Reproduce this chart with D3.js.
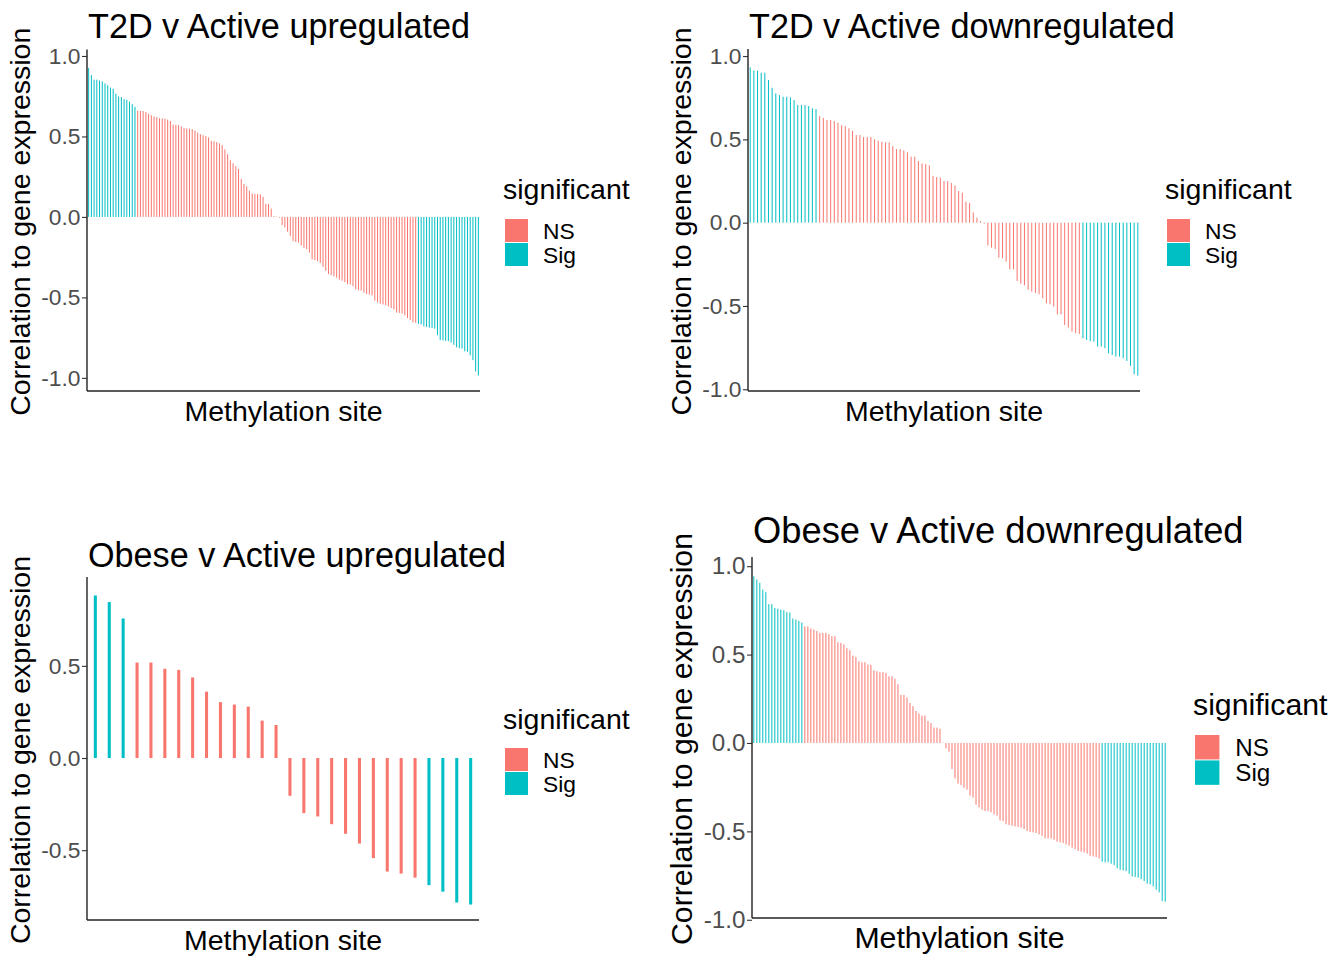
<!DOCTYPE html>
<html>
<head>
<meta charset="utf-8">
<script src="https://cdn.jsdelivr.net/npm/d3@7"></script>
<style>
  body { margin: 0; background: #fff; }
  text { font-family: "Liberation Sans", Arial, sans-serif; }
</style>
</head>
<body>
<script>
// correlation values, one per methylation site, already sorted high -> low
const t2dUpValues = [0.926,0.882,0.853,0.853,0.847,0.842,0.830,0.818,0.804,0.797,0.765,0.748,0.745,0.731,0.728,0.716,0.700,0.684,
  0.660,0.659,0.658,0.652,0.641,0.632,0.624,0.620,0.613,0.612,0.610,0.605,0.596,0.574,0.572,0.570,0.562,0.552,0.550,0.548,
  0.546,0.537,0.524,0.514,0.508,0.502,0.494,0.473,0.470,0.465,0.457,0.446,0.420,0.390,0.352,0.333,0.316,0.298,0.236,0.205,
  0.190,0.162,0.145,0.143,0.142,0.140,0.125,0.082,0.080,0.052,0.006,0.002,
  -0.004,-0.050,-0.066,-0.092,-0.118,-0.150,-0.155,-0.160,-0.178,-0.192,-0.200,-0.222,-0.264,-0.268,-0.275,-0.285,-0.310,
  -0.335,-0.355,-0.362,-0.370,-0.378,-0.390,-0.396,-0.405,-0.418,-0.420,-0.430,-0.450,-0.455,-0.458,-0.470,-0.480,-0.482,
  -0.488,-0.520,-0.531,-0.540,-0.544,-0.548,-0.556,-0.566,-0.575,-0.594,-0.596,-0.600,-0.612,-0.628,-0.640,-0.655,-0.658,
  -0.665,-0.668,-0.680,-0.684,-0.688,-0.690,-0.694,-0.735,-0.765,-0.767,-0.770,-0.772,-0.780,-0.795,-0.810,-0.816,-0.818,
  -0.835,-0.838,-0.860,-0.890,-0.960,-0.986];
// significance as runs along the sorted sites
const t2dUpSig = [["Sig", 18], ["NS", 103], ["Sig", 23]];

const t2dDownValues = [0.932,0.914,0.912,0.900,0.900,0.856,0.810,0.776,0.766,0.756,0.756,0.752,0.736,0.706,0.706,0.706,0.700,0.686,0.682,
  0.640,0.628,0.616,0.616,0.610,0.600,0.584,0.580,0.566,0.552,0.526,0.526,0.514,0.514,0.514,0.500,0.492,0.486,0.482,0.482,
  0.460,0.442,0.442,0.434,0.422,0.396,0.396,0.370,0.356,0.352,0.344,0.280,0.274,0.270,0.250,0.250,0.238,0.222,0.190,0.180,
  0.126,0.118,0.062,0.030,0.010,-0.006,
  -0.138,-0.150,-0.158,-0.210,-0.214,-0.234,-0.280,-0.280,-0.350,-0.366,-0.376,-0.402,-0.414,-0.422,-0.430,-0.454,-0.484,
  -0.490,-0.504,-0.550,-0.550,-0.614,-0.630,-0.654,-0.664,-0.668,
  -0.694,-0.704,-0.710,-0.714,-0.744,-0.744,-0.754,-0.784,-0.794,-0.804,-0.804,-0.814,-0.830,-0.860,-0.910,-0.918];
const t2dDownSig = [["Sig", 19], ["NS", 72], ["Sig", 16]];

const obeseUpValues = [0.882,0.846,0.757,0.518,0.518,0.484,0.478,0.437,0.360,0.303,0.290,0.279,0.203,0.179,
  -0.205,-0.299,-0.317,-0.359,-0.411,-0.464,-0.543,-0.616,-0.627,-0.649,-0.690,-0.725,-0.784,-0.795];
const obeseUpSig = [["Sig", 3], ["NS", 21], ["Sig", 4]];

const obeseDownValues = [0.943,0.925,0.906,0.868,0.853,0.785,0.785,0.764,0.760,0.755,0.751,0.740,0.738,0.704,0.698,0.691,0.681,
  0.660,0.660,0.647,0.642,0.634,0.623,0.623,0.623,0.615,0.604,0.604,0.570,0.566,0.558,0.536,0.525,0.494,0.487,0.462,0.457,
  0.457,0.443,0.442,0.411,0.406,0.400,0.400,0.396,0.377,0.377,0.364,0.332,0.272,0.272,0.257,0.226,0.208,0.181,0.166,0.155,
  0.155,0.125,0.113,0.087,0.087,0.081,0.002,
  -0.030,-0.049,-0.147,-0.200,-0.230,-0.238,-0.253,-0.264,-0.298,-0.309,-0.349,-0.364,-0.377,-0.385,-0.385,-0.392,-0.404,
  -0.411,-0.438,-0.442,-0.460,-0.464,-0.468,-0.472,-0.475,-0.479,-0.487,-0.498,-0.504,-0.506,-0.509,-0.517,-0.525,-0.540,
  -0.540,-0.540,-0.547,-0.558,-0.562,-0.566,-0.574,-0.581,-0.592,-0.600,-0.611,-0.615,-0.619,-0.626,-0.638,-0.642,-0.645,-0.653,
  -0.672,-0.675,-0.675,-0.683,-0.691,-0.709,-0.717,-0.721,-0.725,-0.740,-0.755,-0.758,-0.762,-0.770,-0.781,-0.796,-0.800,
  -0.811,-0.830,-0.845,-0.894,-0.898];
const obeseDownSig = [["Sig", 17], ["NS", 99], ["Sig", 22]];

const titles = ["T2D v Active upregulated", "T2D v Active downregulated", "Obese v Active upregulated", "Obese v Active downregulated"];
const fullTicks = [1.0, 0.5, 0.0, -0.5, -1.0];
const shortTicks = [0.5, 0.0, -0.5];
const legendLevels = ["NS", "Sig"];
const xLabel = "Methylation site";
const yLabel = "Correlation to gene expression";
const legendTitle = "significant";

const colour = d3.scaleOrdinal().domain(legendLevels).range(["#F8766D", "#00BFC4"]);

const svg = d3.select("body").append("svg")
  .attr("width", 1341)
  .attr("height", 958);

function expandRuns(runs) {
  let out = [];
  runs.forEach(r => { for (let k = 0; k < r[1]; k++) out.push(r[0]); });
  return out;
}

// layout of each ggplot panel (pixels), s = text scale
const panels = [
  {values: t2dUpValues, sig: t2dUpSig, title: titles[0], ticks: fullTicks, s: 1,
   left: 87, right: 480, top: 52.5, bottom: 391, titleY: 38, yTitleX: 30, xTitleY: 421,
   legX: 503, legY: 199, keyY: 219},
  {values: t2dDownValues, sig: t2dDownSig, title: titles[1], ticks: fullTicks, s: 1,
   left: 748, right: 1140, top: 52, bottom: 391, titleY: 38, yTitleX: 691, xTitleY: 421,
   legX: 1165, legY: 199, keyY: 219},
  {values: obeseUpValues, sig: obeseUpSig, title: titles[2], ticks: shortTicks, s: 1,
   left: 87, right: 479, top: 580, bottom: 920, titleY: 567, yTitleX: 30, xTitleY: 950,
   legX: 503, legY: 729, keyY: 748},
  {values: obeseDownValues, sig: obeseDownSig, title: titles[3], ticks: fullTicks, s: 1.062,
   left: 752, right: 1167, top: 560, bottom: 918, titleY: 543, yTitleX: 692, xTitleY: 948,
   legX: 1193, legY: 715, keyY: 735}
];

panels.forEach(p => drawPanel(p));

function drawPanel(p) {
  const s = p.s;
  const base = 28.5 * s;
  const g = svg.append("g");
  const sig = expandRuns(p.sig);
  const data = p.values.map((v, i) => ({i: i, v: v, sig: sig[i]}));

  const ext = d3.extent(p.values);
  const pad = (ext[1] - ext[0]) * 0.05;
  const y = d3.scaleLinear().domain([ext[0] - pad, ext[1] + pad]).range([p.bottom, p.top]);
  const x = d3.scalePoint().domain(d3.range(data.length)).range([p.left, p.right]).padding(0.6);
  const bw = Math.max(1.0, x.step() * 0.22);

  g.selectAll("rect.bar")
    .data(data)
    .join("rect")
    .attr("class", "bar")
    .attr("x", d => x(d.i) - bw / 2)
    .attr("y", d => y(Math.max(0, d.v)))
    .attr("width", bw)
    .attr("height", d => Math.abs(y(d.v) - y(0)))
    .attr("fill", d => colour(d.sig));

  // y axis
  const yAxis = g.append("g")
    .attr("transform", "translate(" + p.left + ",0)")
    .call(d3.axisLeft(y).tickValues(p.ticks).tickFormat(d => d.toFixed(1))
      .tickSize(5).tickSizeOuter(0).tickPadding(1.5));
  yAxis.select(".domain").remove();
  yAxis.selectAll(".tick line").attr("stroke", "#333").attr("stroke-width", 1.1);
  yAxis.selectAll(".tick text")
    .attr("font-size", 22.8 * s)
    .attr("fill", "#4d4d4d")
    .attr("font-family", "Liberation Sans, Arial, sans-serif");

  // axis lines (theme_classic)
  g.append("line")
    .attr("x1", p.left).attr("x2", p.left)
    .attr("y1", p.top - 3).attr("y2", p.bottom)
    .attr("stroke", "#222").attr("stroke-width", 1.4);
  g.append("line")
    .attr("x1", p.left).attr("x2", p.right)
    .attr("y1", p.bottom).attr("y2", p.bottom)
    .attr("stroke", "#222").attr("stroke-width", 1.4);

  // titles
  g.append("text")
    .attr("x", p.left + 1).attr("y", p.titleY)
    .attr("font-size", base * 1.2)
    .text(p.title);
  g.append("text")
    .attr("x", (p.left + p.right) / 2).attr("y", p.xTitleY)
    .attr("text-anchor", "middle")
    .attr("font-size", base)
    .text(xLabel);
  g.append("text")
    .attr("transform", "translate(" + p.yTitleX + "," + ((p.top + p.bottom) / 2) + ") rotate(-90)")
    .attr("text-anchor", "middle")
    .attr("font-size", base)
    .text(yLabel);

  // legend
  const key = 23 * s;
  g.append("text")
    .attr("x", p.legX).attr("y", p.legY)
    .attr("font-size", base)
    .text(legendTitle);
  legendLevels.forEach((lv, k) => {
    g.append("rect")
      .attr("x", p.legX + 2).attr("y", p.keyY + k * (key + 1))
      .attr("width", key).attr("height", key)
      .attr("fill", colour(lv));
    g.append("text")
      .attr("x", p.legX + 2 + key + 15 * s)
      .attr("y", p.keyY + k * (key + 1) + key / 2 + 8 * s)
      .attr("font-size", 22.8 * s)
      .text(lv);
  });
}
</script>
</body>
</html>
